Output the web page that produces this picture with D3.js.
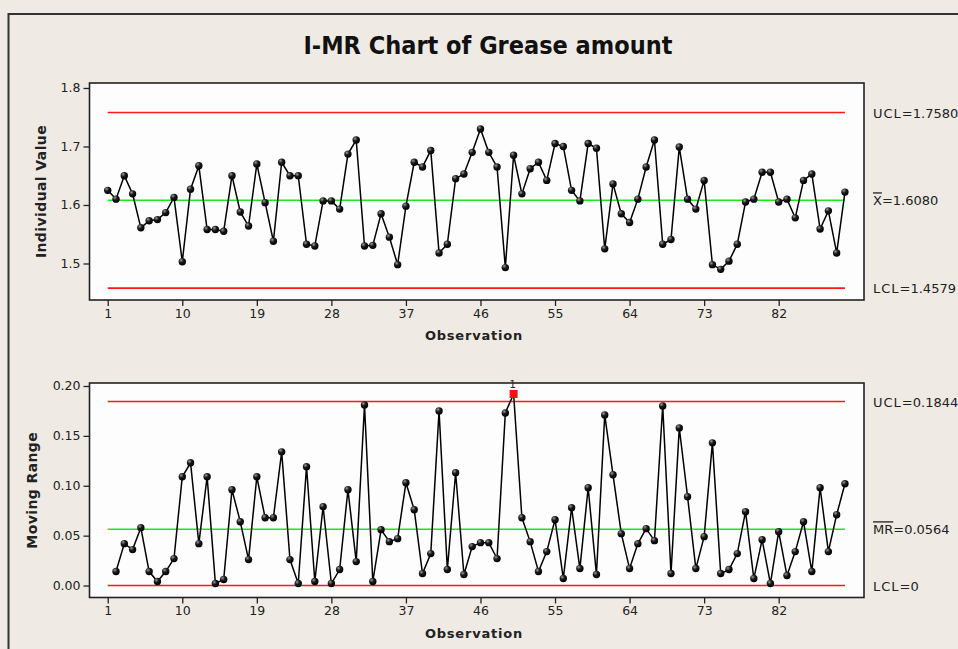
<!DOCTYPE html>
<html>
<head>
<meta charset="utf-8">
<script src="https://cdn.jsdelivr.net/npm/d3@7"></script>
<style>
  body { margin: 0; background: #efebe4; }
  svg { display: block; }
  .tick text { font-family: "DejaVu Sans", Verdana, sans-serif; font-size: 12.5px; fill: #222; }
  .tick line { stroke: #222; stroke-width: 1.3; }
</style>
</head>
<body>
<div id="chart"></div>
<script>
// observation numbers and x tick labels
const obs = d3.range(1, 91);
const xTicks = [1, 10, 19, 28, 37, 46, 55, 64, 73, 82];

// individual values (obs 1..90)
const indValues = [
  1.625, 1.610, 1.650, 1.619, 1.561, 1.573, 1.575, 1.587, 1.613, 1.503,
  1.627, 1.667, 1.558, 1.558, 1.555, 1.650, 1.588, 1.564, 1.670, 1.604,
  1.538, 1.673, 1.650, 1.650, 1.533, 1.530, 1.607, 1.607, 1.593, 1.687,
  1.711, 1.530, 1.531, 1.585, 1.545, 1.498, 1.598, 1.673, 1.665, 1.693,
  1.518, 1.533, 1.645, 1.653, 1.690, 1.730, 1.690, 1.665, 1.493, 1.685,
  1.619, 1.662, 1.673, 1.642, 1.705, 1.700, 1.625, 1.607, 1.705, 1.697,
  1.525, 1.636, 1.585, 1.570, 1.610, 1.665, 1.711, 1.533, 1.541, 1.699,
  1.610, 1.593, 1.642, 1.498, 1.490, 1.504, 1.533, 1.605, 1.610, 1.656,
  1.656, 1.605, 1.610, 1.578, 1.642, 1.653, 1.559, 1.590, 1.518, 1.622
];

// moving ranges (obs 2..90)
const mrValues = [
  0.014, 0.042, 0.036, 0.058, 0.014, 0.004, 0.014, 0.027, 0.109,
  0.123, 0.042, 0.109, 0.002, 0.006, 0.096, 0.064, 0.026, 0.109, 0.068,
  0.068, 0.134, 0.026, 0.002, 0.119, 0.004, 0.079, 0.002, 0.016, 0.096,
  0.024, 0.181, 0.004, 0.056, 0.044, 0.047, 0.103, 0.076, 0.012, 0.032,
  0.175, 0.016, 0.113, 0.011, 0.039, 0.043, 0.043, 0.027, 0.173, 0.192,
  0.068, 0.044, 0.014, 0.034, 0.066, 0.007, 0.078, 0.017, 0.098, 0.011,
  0.171, 0.111, 0.052, 0.017, 0.042, 0.057, 0.045, 0.180, 0.012, 0.158,
  0.089, 0.017, 0.049, 0.143, 0.012, 0.016, 0.032, 0.074, 0.007, 0.046,
  0.002, 0.054, 0.010, 0.034, 0.064, 0.014, 0.098, 0.034, 0.071, 0.102
];

// control limits
const indLimits = { ucl: 1.7580, center: 1.6080, lcl: 1.4579 };
const mrLimits = { ucl: 0.1844, center: 0.0564, lcl: 0 };
const indTicks = [1.5, 1.6, 1.7, 1.8];
const mrTicks = [0.00, 0.05, 0.10, 0.15, 0.20];

const W = 958, H = 649;
const left = 89.5, right = 864;

const svg = d3.select("#chart").append("svg")
  .attr("width", W).attr("height", H);

// dot shading
const grad = svg.append("defs").append("radialGradient")
  .attr("id", "ball").attr("cx", "35%").attr("cy", "30%").attr("r", "70%");
grad.append("stop").attr("offset", "0%").attr("stop-color", "#9a9a9a");
grad.append("stop").attr("offset", "45%").attr("stop-color", "#1a1a1a");
grad.append("stop").attr("offset", "100%").attr("stop-color", "#000");

// outer border
svg.append("rect")
  .attr("x", 8.5).attr("y", 14).attr("width", W).attr("height", H)
  .attr("fill", "none").attr("stroke", "#333").attr("stroke-width", 2);

svg.append("text")
  .attr("x", 488).attr("y", 54)
  .attr("text-anchor", "middle")
  .style("font-family", "'Liberation Sans Narrow', 'DejaVu Sans Condensed', 'DejaVu Sans', sans-serif")
  .style("font-stretch", "condensed")
  .style("font-weight", "bold")
  .style("font-size", "25px")
  .style("fill", "#111")
  .text("I-MR Chart of Grease amount");

const x = d3.scaleLinear().domain([-1.2, 92.3]).range([left, right]);

function panel(opts) {
  const y = d3.scaleLinear().domain(opts.domain).range([opts.bottom, opts.top]);
  const g = svg.append("g");

  g.append("rect")
    .attr("x", left).attr("y", opts.top)
    .attr("width", right - left).attr("height", opts.bottom - opts.top)
    .attr("fill", "#fdfdfd");

  // control lines
  const lines = [
    { v: opts.limits.ucl, c: "#ff1a1a" },
    { v: opts.limits.center, c: "#1ee61e" },
    { v: opts.limits.lcl, c: "#ff1a1a" }
  ];
  g.selectAll("line.cl").data(lines).enter().append("line")
    .attr("x1", x(1)).attr("x2", x(90))
    .attr("y1", d => y(d.v)).attr("y2", d => y(d.v))
    .attr("stroke", d => d.c).attr("stroke-width", 1.6);

  // series
  const line = d3.line().x(d => x(d[0])).y(d => y(d[1]));
  g.append("path")
    .datum(opts.data)
    .attr("d", line)
    .attr("fill", "none").attr("stroke", "#000").attr("stroke-width", 1.5);

  const ok = opts.data.filter(d => d[1] <= opts.limits.ucl);
  const bad = opts.data.filter(d => d[1] > opts.limits.ucl);

  g.selectAll("circle.pt").data(ok).enter().append("circle")
    .attr("cx", d => x(d[0])).attr("cy", d => y(d[1]))
    .attr("r", 3.7).attr("fill", "url(#ball)");

  g.selectAll("rect.bad").data(bad).enter().append("rect")
    .attr("x", d => x(d[0]) - 4).attr("y", d => y(d[1]) - 4)
    .attr("width", 8).attr("height", 8).attr("fill", "#ff1010");
  g.selectAll("text.bad").data(bad).enter().append("text")
    .attr("x", d => x(d[0]) - 1).attr("y", d => y(d[1]) - 6)
    .attr("text-anchor", "middle")
    .style("font-family", "'DejaVu Sans', sans-serif").style("font-size", "10px")
    .style("fill", "#222")
    .text("1");

  // frame
  g.append("rect")
    .attr("x", left).attr("y", opts.top)
    .attr("width", right - left).attr("height", opts.bottom - opts.top)
    .attr("fill", "none").attr("stroke", "#222").attr("stroke-width", 1.6);

  // axes
  const ya = g.append("g").attr("transform", `translate(${left},0)`)
    .call(d3.axisLeft(y).tickValues(opts.ticks).tickFormat(d3.format(opts.fmt)).tickSize(6).tickPadding(3));
  ya.select(".domain").remove();

  const xa = g.append("g").attr("transform", `translate(0,${opts.bottom})`)
    .call(d3.axisBottom(x).tickValues(xTicks).tickSize(6).tickPadding(3));
  xa.select(".domain").remove();

  g.append("text")
    .attr("x", 474).attr("y", opts.bottom + 40)
    .attr("text-anchor", "middle")
    .style("font-family", "'DejaVu Sans', sans-serif")
    .style("font-weight", "bold").style("font-size", "13px")
    .style("letter-spacing", "0.8px")
    .style("fill", "#222")
    .text("Observation");

  g.append("text")
    .attr("transform", `translate(${opts.labelX},${(opts.top + opts.bottom) / 2}) rotate(-90)`)
    .attr("text-anchor", "middle")
    .style("font-family", "'DejaVu Sans', sans-serif")
    .style("font-weight", "bold").style("font-size", "14px")
    .style("letter-spacing", "0.4px")
    .style("fill", "#222")
    .text(opts.yLabel);

  // limit labels on the right
  const labs = [
    { v: opts.limits.ucl, pre: "UCL", bar: false, txt: "=" + opts.labels[0] },
    { v: opts.limits.center, pre: opts.centerName, bar: true, txt: "=" + opts.labels[1] },
    { v: opts.limits.lcl, pre: "LCL", bar: false, txt: "=" + opts.labels[2] }
  ];
  const t = g.selectAll("text.lim").data(labs).enter().append("text")
    .attr("x", 873).attr("y", d => y(d.v) + 5)
    .style("font-family", "'DejaVu Sans', sans-serif")
    .style("font-size", "13px")
    .style("fill", "#222");
  t.append("tspan")
    .style("text-decoration", d => d.bar ? "overline" : "none")
    .style("letter-spacing", d => d.bar ? "0px" : "1px")
    .text(d => d.pre);
  t.append("tspan").text(d => d.txt);
}

panel({
  top: 83, bottom: 300, domain: [1.4376, 1.8085],
  data: obs.map((o, i) => [o, indValues[i]]),
  limits: indLimits, ticks: indTicks, fmt: ".1f",
  yLabel: "Individual Value", labelX: 46,
  centerName: "X", labels: ["1.7580", "1.6080", "1.4579"]
});

panel({
  top: 383, bottom: 597.5, domain: [-0.012, 0.203],
  data: obs.slice(1).map((o, i) => [o, mrValues[i]]),
  limits: mrLimits, ticks: mrTicks, fmt: ".2f",
  yLabel: "Moving Range", labelX: 37,
  centerName: "MR", labels: ["0.1844", "0.0564", "0"]
});
</script>
</body>
</html>
